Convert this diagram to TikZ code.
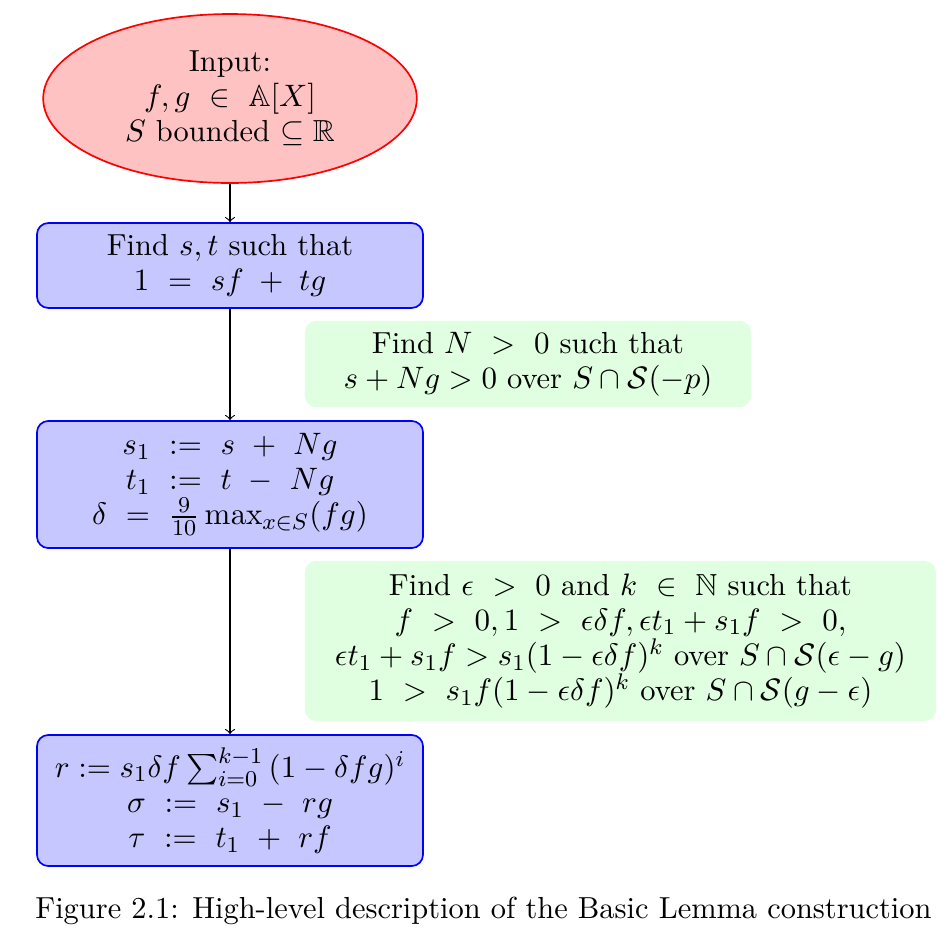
\documentclass[tikz,border=0pt]{standalone}
\usepackage{amsmath,amssymb}
\usetikzlibrary{shapes.geometric,arrows.meta}
\begin{document}
\begin{tikzpicture}[x=0.3533pt,y=-0.3533pt,
  every node/.style={font=\fontsize{10.75}{12.4}\selectfont},
  startnode/.style={ellipse,draw=red,fill=red!24,line width=0.6pt,inner sep=0pt,align=center},
  procbox/.style={rectangle,rounded corners=4pt,draw=blue,fill=blue!22,line width=0.6pt,align=center,inner sep=0pt},
  notebox/.style={rectangle,rounded corners=4pt,fill=green!12,align=center,inner sep=0pt},
  flow/.style={->,>=to,line width=0.4pt}]
\useasboundingbox (0,0) rectangle (946,942);
\node[startnode,minimum width=132pt,minimum height=59.7pt] (input) at (230,98.5) {Input:\\ $f,g\ \in\ \mathbb{A}[X]$\\ $S$ bounded $\subseteq\mathbb{R}$};
\node[procbox,minimum width=136.4pt,minimum height=30pt] (find) at (230,265.5) {Find $s,t$ such that\\ $1\ =\ sf\;+\;tg$};
\node[notebox,minimum width=157.6pt,minimum height=30.4pt] (noteN) at (528,364) {Find $N\ >\ 0$ such that\\ $s+Ng>0$ over $S\cap\mathcal{S}(-p)$};
\node[procbox,minimum width=136.4pt,minimum height=44.9pt] (def) at (230,484.5) {$s_1\ :=\ s\ +\ Ng$\\ $t_1\ :=\ t\ -\ Ng$\\ $\delta\ =\ \frac{9}{10}\max_{x\in S}(fg)$};
\node[notebox,minimum width=223pt,minimum height=56.5pt] (noteE) at (620.5,641) {Find $\epsilon\ >\ 0$ and $k\ \in\ \mathbb{N}$ such that\\ $f\ >\ 0, 1\ >\ \epsilon\delta f, \epsilon t_1+s_1f\ >\ 0,$\\ $\epsilon t_1+s_1f>s_1(1-\epsilon\delta f)^k$ over $S\cap\mathcal{S}(\epsilon-g)$\\ $1\ >\ s_1f(1-\epsilon\delta f)^k$ over $S\cap\mathcal{S}(g-\epsilon)$};
\node[procbox,minimum width=136.4pt,minimum height=46.3pt] (res) at (230,800.5) {$r:=s_1\delta f\sum_{i=0}^{k-1}\,(1-\delta fg)^i$\\ $\sigma\ :=\ s_1\ -\ rg$\\ $\tau\ :=\ t_1\ +\ rf$};
\node[anchor=base] (cap) at (483.5,918) {Figure 2.1: High-level description of the Basic Lemma construction};
\draw[flow] (input) -- (find);
\draw[flow] (find) -- (def);
\draw[flow] (def) -- (res);
\end{tikzpicture}
\end{document}
